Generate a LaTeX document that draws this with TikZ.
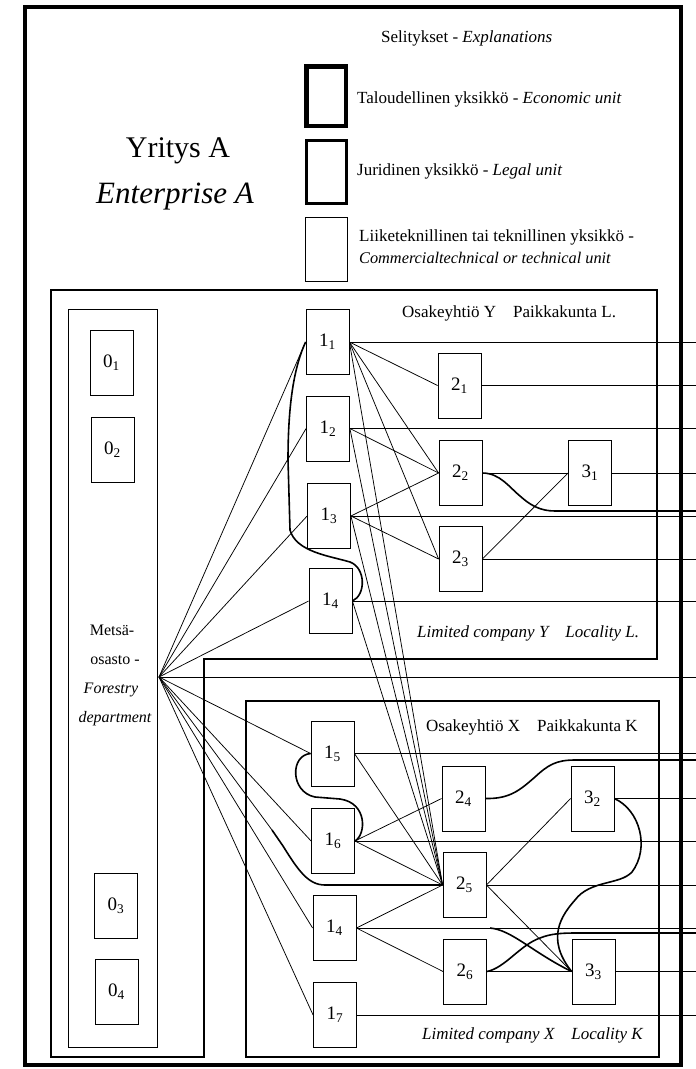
\documentclass[tikz,border=0pt]{standalone}
\usepackage{fontspec}
\setmainfont{Liberation Serif}
\begin{document}
\begin{tikzpicture}[x=1pt,y=-1pt,
  unit/.style={draw, line width=0.8pt, fill=white, minimum width=43pt, minimum height=65pt, inner sep=0pt, font=\fontsize{19}{19}\selectfont},
  conn/.style={line width=0.75pt},
  heavy/.style={line width=1.6pt},
  lbl/.style={inner sep=0pt, anchor=west, font=\fontsize{17}{20}\selectfont},
  dept/.style={inner sep=0pt, font=\fontsize{16}{18}\selectfont}]
\useasboundingbox (0,0) rectangle (696,1069);
% frames
\draw[line width=4pt] (25,7) rectangle (681,1065);
\draw[line width=2.4pt] (51,290) -- (657,290) -- (657,659) -- (204,659) -- (204,1057) -- (51,1057) -- cycle;
\draw[line width=2.4pt] (246,701) rectangle (659,1057);
\draw[line width=0.8pt] (68,309) rectangle (157,1047);
% legend
\node[draw, line width=4.5pt, minimum width=39.5pt, minimum height=59.5pt, inner sep=0pt] (leg1) at (326,96) {};
\node[draw, line width=2.6pt, minimum width=40.5pt, minimum height=63pt, inner sep=0pt] (leg2) at (326.5,172) {};
\node[draw, line width=0.8pt, minimum width=42.5pt, minimum height=64pt, inner sep=0pt] (leg3) at (326.5,249.5) {};
\node[lbl] (tit) at (381,38) {Selitykset - \textit{Explanations}};
\node[lbl] (t1) at (357,99) {Taloudellinen yksikkö - \textit{Economic unit}};
\node[lbl] (t2) at (357,171) {Juridinen yksikkö - \textit{Legal unit}};
\node[lbl] (t3) at (359,237) {Liiketeknillinen tai teknillinen yksikkö -};
\node[lbl, font=\fontsize{16.3}{20}\selectfont] (t4) at (359,258) {\textit{Commercialtechnical or technical unit}};
\node[inner sep=0pt, font=\fontsize{30}{34}\selectfont] (ent1) at (178,151) {Yritys A};
\node[inner sep=0pt, font=\fontsize{31}{34}\selectfont\itshape] (ent2) at (175,197) {Enterprise A};
% company labels
\node[lbl] (ly1) at (402,313) {Osakeyhtiö Y\quad Paikkakunta L.};
\node[lbl] (ly2) at (417,633) {\textit{Limited company Y\quad Locality L.}};
\node[lbl] (lx1) at (426,727) {Osakeyhtiö X\quad Paikkakunta K};
\node[lbl] (lx2) at (422,1035) {\textit{Limited company X\quad Locality K}};
% department text
\node[dept] (d1) at (112,630) {Metsä-};
\node[dept] (d2) at (115,660) {osasto -};
\node[dept, font=\fontsize{16}{18}\selectfont\itshape] (d3) at (111,690) {Forestry};
\node[dept, font=\fontsize{16}{18}\selectfont\itshape] (d4) at (115,719) {department};
\coordinate (F) at (159,677);
\coordinate (R) at (696,0);
% units
\node[unit] (O1) at (111.5,362.5) {0\textsubscript{1}};
\node[unit] (O2) at (112.5,450) {0\textsubscript{2}};
\node[unit] (O3) at (116,905.5) {0\textsubscript{3}};
\node[unit] (O4) at (116.5,992) {0\textsubscript{4}};
\node[unit] (Y11) at (327.5,342) {1\textsubscript{1}};
\node[unit] (Y12) at (328,428.5) {1\textsubscript{2}};
\node[unit] (Y13) at (329,516) {1\textsubscript{3}};
\node[unit] (Y14) at (330.5,601) {1\textsubscript{4}};
\node[unit] (Y21) at (459.5,385.5) {2\textsubscript{1}};
\node[unit] (Y22) at (460.5,473) {2\textsubscript{2}};
\node[unit] (Y23) at (460.5,559) {2\textsubscript{3}};
\node[unit] (Y31) at (590,473) {3\textsubscript{1}};
\node[unit] (X15) at (332.5,753.5) {1\textsubscript{5}};
\node[unit] (X16) at (333,841) {1\textsubscript{6}};
\node[unit] (X14) at (334.5,928) {1\textsubscript{4}};
\node[unit] (X17) at (335,1015) {1\textsubscript{7}};
\node[unit] (X24) at (463.5,798.5) {2\textsubscript{4}};
\node[unit] (X25) at (464.5,885) {2\textsubscript{5}};
\node[unit] (X26) at (465,971.5) {2\textsubscript{6}};
\node[unit] (X32) at (592.5,798.5) {3\textsubscript{2}};
\node[unit] (X33) at (593.5,971.5) {3\textsubscript{3}};
\coordinate (r22) at (696,511);
\coordinate (r24) at (696,760);
\coordinate (r26) at (696,933);
\coordinate (b14) at (490,928);
\coordinate (c25) at (272,830);
% fan from department
\draw[conn] (F) -- (Y11.west);
\draw[conn] (F) -- (Y12.west);
\draw[conn] (F) -- (Y13.west);
\draw[conn] (F) -- (Y14.west);
\draw[conn] (F) -- (F -| R);
\draw[conn] (F) -- (X15.west);
\draw[conn] (F) -- (X16.west);
\draw[conn] (F) -- (X14.west);
\draw[conn] (F) -- (X17.west);
\draw[conn] (F) -- (c25);
\draw[heavy] (c25) -- (283,846) .. controls (298,870) and (308,885) .. (325,885) -- (X25.west);
% company Y
\draw[heavy] (Y11.west) .. controls (295,365) and (288,400) .. (288,460) -- (290,530) .. controls (296,552) and (330,556) .. (350,562) .. controls (366,568) and (366,595) .. (Y14.east);
\draw[conn] (Y11.east) -- (Y11.east -| R);
\draw[conn] (Y11.east) -- (Y21.west);
\draw[conn] (Y11.east) -- (Y22.west);
\draw[conn] (Y11.east) -- (Y23.west);
\draw[conn] (Y11.east) -- (X25.west);
\draw[conn] (Y12.east) -- (Y12.east -| R);
\draw[conn] (Y12.east) -- (Y22.west);
\draw[conn] (Y12.east) -- (X25.west);
\draw[conn] (Y13.east) -- (Y13.east -| R);
\draw[conn] (Y13.east) -- (Y22.west);
\draw[conn] (Y13.east) -- (Y23.west);
\draw[conn] (Y13.east) -- (X25.west);
\draw[conn] (Y14.east) -- (Y14.east -| R);
\draw[conn] (Y14.east) -- (X25.west);
\draw[conn] (Y21.east) -- (Y21.east -| R);
\draw[conn] (Y22.east) -- (Y31.west);
\draw[heavy] (Y22.east) .. controls (500,473) and (510,488) .. (520,496) .. controls (530,505) and (540,511) .. (555,511) -- (r22);
\draw[conn] (Y23.east) -- (Y23.east -| R);
\draw[conn] (Y23.east) -- (Y31.west);
\draw[conn] (Y31.east) -- (Y31.east -| R);
% company X
\draw[heavy] (X15.west) .. controls (290,755) and (290,792) .. (315,797) -- (340,799) .. controls (368,803) and (366,835) .. (X16.east);
\draw[conn] (X15.east) -- (X15.east -| R);
\draw[conn] (X15.east) -- (X25.west);
\draw[conn] (X16.east) -- (X16.east -| R);
\draw[conn] (X16.east) -- (X24.west);
\draw[conn] (X16.east) -- (X25.west);
\draw[conn] (X14.east) -- (X14.east -| R);
\draw[conn] (X14.east) -- (X25.west);
\draw[conn] (X14.east) -- (X26.west);
\draw[heavy] (b14) .. controls (512,930) and (532,952) .. (X33.west);
\draw[conn] (X17.east) -- (X17.east -| R);
\draw[heavy] (X24.east) .. controls (510,799) and (520,790) .. (535,777) .. controls (548,765) and (556,760) .. (575,760) -- (r24);
\draw[conn] (X25.east) -- (X25.east -| R);
\draw[conn] (X25.east) -- (X32.west);
\draw[conn] (X25.east) -- (X33.west);
\draw[conn] (X26.east) -- (X33.west);
\draw[heavy] (X26.east) .. controls (505,968) and (520,945) .. (540,938) .. controls (550,934) and (560,933) .. (575,933) -- (r26);
\draw[conn] (X32.east) -- (X32.east -| R);
\draw[heavy] (X32.east) .. controls (640,810) and (650,848) .. (632,872) .. controls (620,885) and (590,880) .. (575,900) .. controls (562,915) and (545,938) .. (X33.west);
\draw[conn] (X33.east) -- (X33.east -| R);
\end{tikzpicture}
\end{document}
